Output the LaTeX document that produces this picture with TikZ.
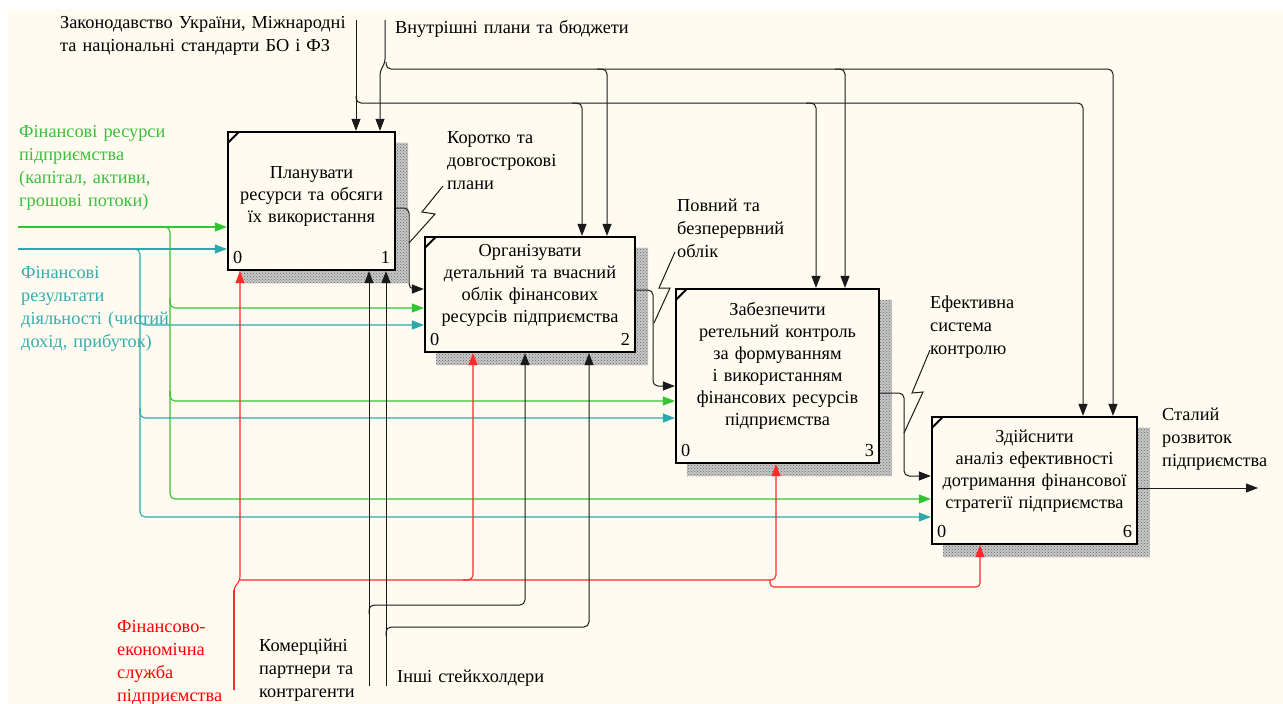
\documentclass[tikz,border=0pt]{standalone}
\usepackage{fontspec}
\setmainfont{Liberation Serif}
\usetikzlibrary{arrows.meta,patterns,calc}
\pgfdeclarelayer{background}
\pgfsetlayers{background,main}
\definecolor{cream}{HTML}{FFFBF0}
\definecolor{ggreen}{HTML}{33C433}
\definecolor{gtext}{HTML}{3CBF3C}
\definecolor{tteal}{HTML}{2AA9AD}
\definecolor{ttext}{HTML}{33ADAD}
\definecolor{rred}{HTML}{FF2A2A}
\definecolor{lblack}{HTML}{1A1A1A}
\definecolor{shgray}{HTML}{6E6E6E}
\begin{document}
\begin{tikzpicture}[x=1pt,y=-1pt,
  font=\fontsize{18.3}{23}\selectfont,
  fbox/.style={draw=black, line width=2.2pt, fill=cream, inner sep=0pt},
  ln/.style={draw=lblack, line width=1pt},
  arr/.style={ln, -{Triangle[length=12pt,width=9pt]}},
  garr/.style={draw=ggreen, line width=1.1pt, -{Triangle[length=12pt,width=9pt]}},
  tarr/.style={draw=tteal, line width=1.1pt, -{Triangle[length=12pt,width=9pt]}},
  rarr/.style={draw=rred, line width=1.1pt, -{Triangle[length=12pt,width=9pt]}},
  txt/.style={anchor=base west, inner sep=0pt, text width=#1, align=left, font=\fontsize{18.3}{23}\selectfont},
  btxt/.style={anchor=base, inner sep=0pt, text width=#1, align=center, font=\fontsize{18.3}{22}\selectfont},
  num/.style={inner sep=0pt},
  corner/.style={line width=2pt},
  shadowst/.style={fill=black!22, postaction={pattern=crosshatch dots, pattern color=black!60}}
]
\useasboundingbox (0,0) rectangle (1283,704);

% boxes
\node[fbox, minimum width=167pt, minimum height=138pt] (b1) at (311.5,201) {};
\node[fbox, minimum width=210pt, minimum height=115pt] (b2) at (530,294.5) {};
\node[fbox, minimum width=203pt, minimum height=174pt] (b3) at (777.5,376) {};
\node[fbox, minimum width=205pt, minimum height=127pt] (b4) at (1034.5,480.5) {};

\begin{pgfonlayer}{background}
  \fill[white] (0,0) rectangle (1283,704);
  \fill[cream] (8,9) rectangle (1283,704);
  \foreach \b in {b1,b2,b3,b4}{
    \path[shadowst] ([shift={(12pt,-12pt)}]\b.south west) rectangle ([shift={(12pt,-12pt)}]\b.north east);
  }
\end{pgfonlayer}

\foreach \b in {b1,b2,b3,b4}{
  \draw[corner] ([shift={(1pt,-12pt)}]\b.north west) -- ([shift={(12pt,-1pt)}]\b.north west);
}

% box texts
\node[btxt=200pt] (t1) at (311.5,178) {Планувати\\ресурси та обсяги\\їх використання};
\node[btxt=230pt] (t2) at (530,256) {Організувати\\детальний та вчасний\\облік фінансових\\ресурсів підприємства};
\node[btxt=225pt] (t3) at (777.5,315) {Забезпечити\\ретельний контроль\\за формуванням\\і використанням\\фінансових ресурсів\\підприємства};
\node[btxt=230pt] (t4) at (1034.5,442) {Здійснити\\аналіз ефективності\\дотримання фінансової\\стратегії підприємства};

% numbers
\node[num, anchor=base west] (n1l) at ([shift={(6pt,8pt)}]b1.south west) {0};
\node[num, anchor=base east] (n1r) at ([shift={(-6pt,8pt)}]b1.south east) {1};
\node[num, anchor=base west] (n2l) at ([shift={(6pt,8pt)}]b2.south west) {0};
\node[num, anchor=base east] (n2r) at ([shift={(-6pt,8pt)}]b2.south east) {2};
\node[num, anchor=base west] (n3l) at ([shift={(6pt,8pt)}]b3.south west) {0};
\node[num, anchor=base east] (n3r) at ([shift={(-6pt,8pt)}]b3.south east) {3};
\node[num, anchor=base west] (n4l) at ([shift={(6pt,8pt)}]b4.south west) {0};
\node[num, anchor=base east] (n4r) at ([shift={(-6pt,8pt)}]b4.south east) {6};

% outside labels
\node[txt=330pt] (law) at (60,28) {Законодавство України, Міжнародні\\та національні стандарти БО і ФЗ};
\node[txt=300pt] (intl) at (395,33) {Внутрішні плани та бюджети};
\node[txt=200pt, text=gtext] (gl) at (19,137) {Фінансові ресурси\\підприємства\\(капітал, активи,\\грошові потоки)};
\node[txt=200pt, text=ttext] (tl) at (21,278) {Фінансові\\результати\\діяльності (чистий\\дохід, прибуток)};
\node[txt=160pt] (kl) at (447,143) {Коротко та\\довгострокові\\плани};
\node[txt=160pt] (pl) at (677,211) {Повний та\\безперервний\\облік};
\node[txt=160pt] (el) at (930,308) {Ефективна\\система\\контролю};
\node[txt=160pt] (sl) at (1162,420) {Сталий\\розвиток\\підприємства};
\node[txt=160pt, text=red] (rl) at (117,632) {Фінансово-\\економічна\\служба\\підприємства};
\node[txt=160pt] (cl) at (259,651) {Комерційні\\партнери та\\контрагенти};
\node[txt=220pt] (il) at (397,682) {Інші стейкхолдери};

% controls
\coordinate (lawtop) at (356,20);
\coordinate (inttop) at (385,20);
\coordinate (intjog) at (380,72);
\draw[arr] (lawtop) -- (lawtop |- b1.north);
\draw[arr, rounded corners=3pt] (inttop) -- (385,62) -- (intjog) -- (intjog |- b1.north);

\coordinate (lawj) at (356,96);
\coordinate (lawr) at (1083,103);
\draw[arr, rounded corners=5pt] (lawj) |- (lawr) -- (lawr |- b4.north);
\coordinate (law2) at (582,103);
\coordinate (law3) at (816,103);
\draw[arr, rounded corners=5pt] ([xshift=-10pt]law2) -| (law2 |- b2.north);
\draw[arr, rounded corners=5pt] ([xshift=-10pt]law3) -| (law3 |- b3.north);

\coordinate (intj) at (386,62);
\coordinate (intr) at (1113,69);
\draw[arr, rounded corners=5pt] (intj) |- (intr) -- (intr |- b4.north);
\coordinate (int2) at (607,69);
\coordinate (int3) at (845,69);
\draw[arr, rounded corners=5pt] ([xshift=-10pt]int2) -| (int2 |- b2.north);
\draw[arr, rounded corners=5pt] ([xshift=-10pt]int3) -| (int3 |- b3.north);

% inputs
\coordinate (gin) at (18,227);
\coordinate (tin) at (18,249);
\draw[garr] (gin) -- (gin -| b1.west);
\draw[tarr] (tin) -- (tin -| b1.west);
\coordinate (gj) at (160,227);
\coordinate (g4) at (170,499);
\draw[garr, rounded corners=5pt] (gj) -| (g4) -- (g4 -| b4.west);
\coordinate (g2) at (170,308);
\coordinate (g3) at (170,401);
\draw[garr, rounded corners=5pt] ([yshift=10pt]g2) |- (g2 -| b2.west);
\draw[garr, rounded corners=5pt] ([yshift=10pt]g3) |- (g3 -| b3.west);
\coordinate (tj) at (130,249);
\coordinate (t4c) at (140,517);
\draw[tarr, rounded corners=5pt] (tj) -| (t4c) -- (t4c -| b4.west);
\coordinate (t2c) at (140,325);
\coordinate (t3c) at (140,418);
\draw[tarr, rounded corners=5pt] ([yshift=10pt]t2c) |- (t2c -| b2.west);
\draw[tarr, rounded corners=5pt] ([yshift=10pt]t3c) |- (t3c -| b3.west);

% outputs
\coordinate (o1) at (409,289);
\draw[arr, rounded corners=5pt] ([yshift=-7pt]b1.east) -| (o1) -- (o1 -| b2.west);
\coordinate (o2) at (653,386);
\draw[arr, rounded corners=5pt] ([yshift=4.5pt]b2.east) -| (o2) -- (o2 -| b3.west);
\coordinate (o3) at (904,476);
\draw[arr, rounded corners=5pt] ([yshift=-17pt]b3.east) -| (o3) -- (o3 -| b4.west);
\coordinate (out) at (1258,488);
\draw[arr] (out -| b4.east) -- (out);

% mechanisms
\coordinate (redb) at (234,690);
\coordinate (rj) at (240,580);
\draw[rarr, rounded corners=3pt] (redb) -- (234,588) -- (rj) -- (rj |- b1.south);
\draw[draw=rred, line width=2pt] (redb) -- (234,590);
\coordinate (r3) at (776,580);
\draw[rarr, rounded corners=5pt] (rj) -| (r3 |- b3.south);
\coordinate (r2) at (473,580);
\draw[rarr, rounded corners=5pt] ([xshift=-10pt]r2) -| (r2 |- b2.south);
\coordinate (rk) at (770,580);
\coordinate (r4) at (980,587);
\draw[rarr, rounded corners=4pt] (rk) |- (r4) -- (r4 |- b4.south);

\coordinate (kom) at (369,686);
\draw[arr] (kom) -- (kom |- b1.south);
\coordinate (kj) at (369,614);
\coordinate (k2) at (525,605);
\draw[arr, rounded corners=5pt] (kj) |- (k2) -- (k2 |- b2.south);
\coordinate (insh) at (386,686);
\draw[arr] (insh) -- (insh |- b1.south);
\coordinate (ij) at (386,636);
\coordinate (i2) at (589,627);
\draw[arr, rounded corners=5pt] (ij) |- (i2) -- (i2 |- b2.south);

% label leaders
\coordinate (z1a) at (443,186); \coordinate (z1b) at (409,243);
\draw[ln] (z1a) -- (422,212) -- (435,214) -- (z1b);
\coordinate (z2a) at (675,252); \coordinate (z2b) at (654,323);
\draw[ln] (z2a) -- (659,288) -- (670,288) -- (z2b);
\coordinate (z3a) at (930,350); \coordinate (z3b) at (904,433);
\draw[ln] (z3a) -- (912,393) -- (923,392) -- (z3b);
\end{tikzpicture}
\end{document}
